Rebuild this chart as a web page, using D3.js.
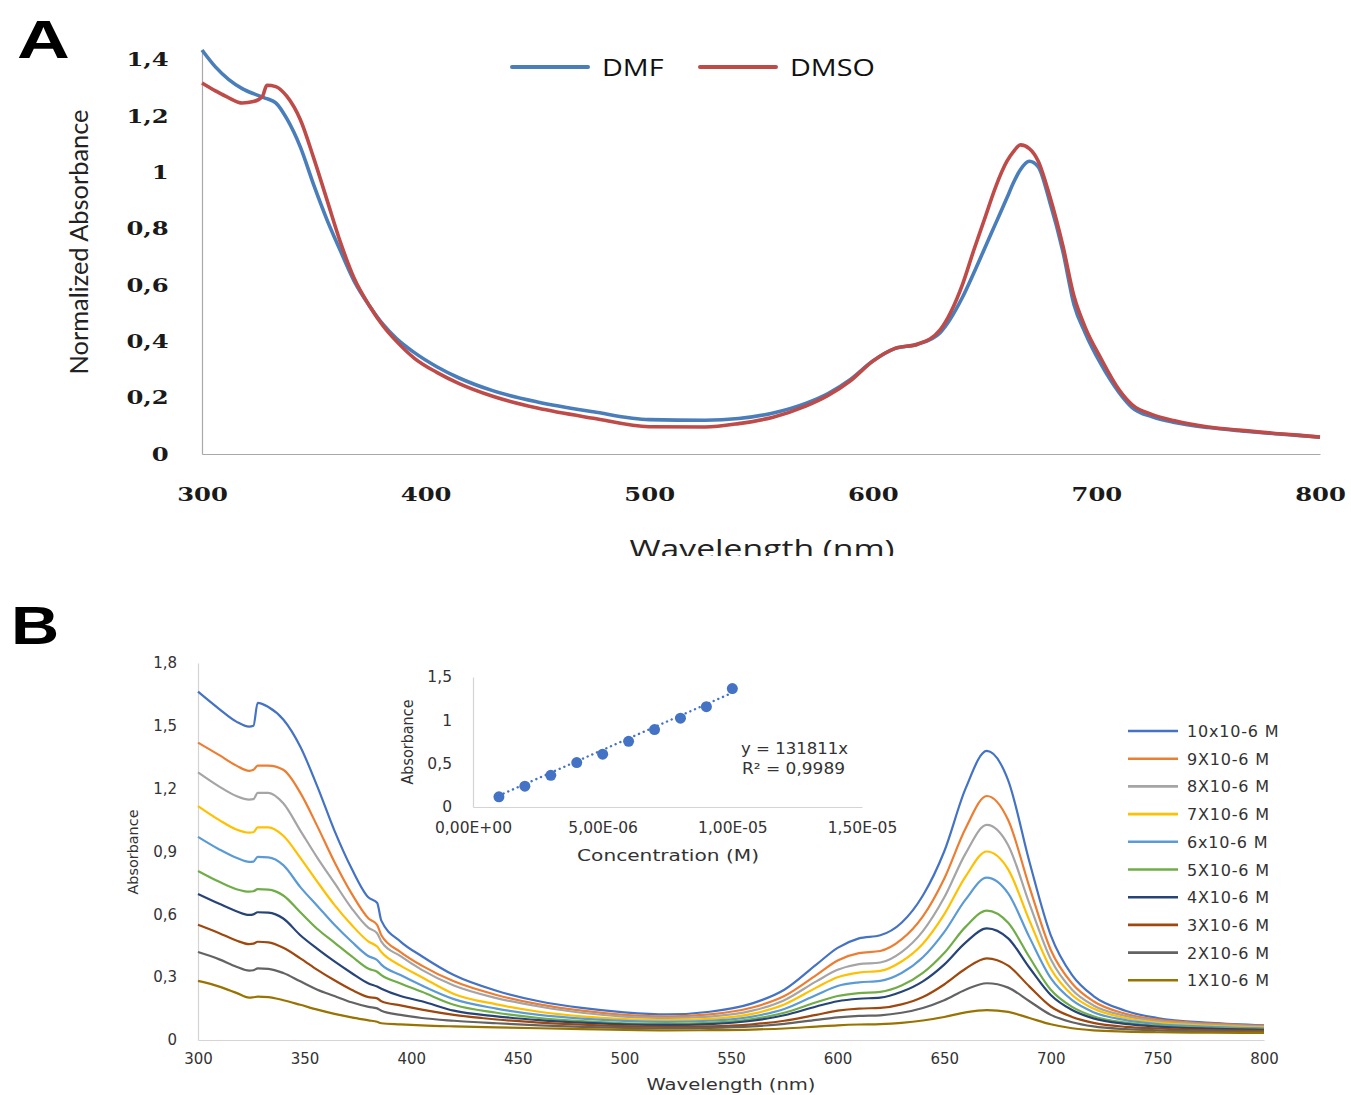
<!DOCTYPE html>
<html>
<head>
<meta charset="utf-8">
<script src="https://cdn.jsdelivr.net/npm/d3@7/dist/d3.min.js"></script>
<style>
  body { margin: 0; background: #fff; }
</style>
</head>
<body>
<div id="chart"></div>
<script>
// ---- panel A : normalized spectra in two solvents
var wavelengthA = [300, 306, 312, 318, 323, 327, 329, 333, 338, 344, 350, 356, 362, 368, 375, 381, 387, 395, 405, 415, 430, 450, 475, 500, 525, 540, 555, 570, 580, 590, 600, 610, 620, 630, 640, 645, 650, 655, 660, 663, 666, 670, 674, 679, 685, 690, 695, 702, 710, 716, 725, 735, 750, 765, 780, 790, 800];
var dmf = [1.435, 1.375, 1.33, 1.298, 1.28, 1.268, 1.262, 1.247, 1.19, 1.09, 0.955, 0.83, 0.72, 0.615, 0.525, 0.46, 0.41, 0.36, 0.31, 0.27, 0.225, 0.185, 0.15, 0.122, 0.12, 0.126, 0.145, 0.18, 0.215, 0.265, 0.33, 0.375, 0.39, 0.43, 0.555, 0.64, 0.73, 0.82, 0.91, 0.965, 1.01, 1.04, 1.02, 0.9, 0.72, 0.53, 0.43, 0.32, 0.22, 0.165, 0.132, 0.112, 0.094, 0.082, 0.072, 0.066, 0.06];
var dmso = [1.318, 1.29, 1.265, 1.247, 1.252, 1.27, 1.31, 1.305, 1.27, 1.187, 1.05, 0.9, 0.75, 0.625, 0.525, 0.455, 0.4, 0.34, 0.29, 0.25, 0.205, 0.163, 0.127, 0.097, 0.096, 0.108, 0.13, 0.17, 0.208, 0.26, 0.33, 0.375, 0.39, 0.44, 0.6, 0.72, 0.835, 0.95, 1.04, 1.075, 1.098, 1.085, 1.04, 0.92, 0.74, 0.56, 0.45, 0.34, 0.23, 0.175, 0.14, 0.118, 0.096, 0.084, 0.073, 0.067, 0.06];
var solventNames = ["DMF", "DMSO"];
var solventColors = ["#4a7ebb", "#be4b48"];
var xTicksA = [300, 400, 500, 600, 700, 800];
var yTicksA = [0, 0.2, 0.4, 0.6, 0.8, 1, 1.2, 1.4];

// ---- panel B : concentration series
var wavelengthB = [300, 310, 318, 324, 326, 328, 333, 340, 348, 356, 364, 372, 380, 384, 386, 395, 405, 420, 440, 460, 480, 500, 520, 540, 560, 575, 590, 600, 610, 620, 630, 640, 650, 660, 670, 680, 690, 700, 710, 720, 735, 750, 775, 800];
var c10 = [1.663, 1.58, 1.52, 1.496, 1.5, 1.61, 1.59, 1.53, 1.4, 1.21, 1.0, 0.82, 0.68, 0.655, 0.57, 0.47, 0.4, 0.31, 0.235, 0.185, 0.153, 0.132, 0.122, 0.135, 0.175, 0.24, 0.36, 0.44, 0.485, 0.5, 0.56, 0.69, 0.9, 1.2, 1.38, 1.24, 0.85, 0.5, 0.31, 0.21, 0.14, 0.105, 0.082, 0.07];
var c9 = [1.42, 1.36, 1.31, 1.285, 1.29, 1.31, 1.31, 1.29, 1.18, 1.02, 0.85, 0.7, 0.58, 0.55, 0.5, 0.42, 0.355, 0.28, 0.215, 0.17, 0.14, 0.12, 0.112, 0.122, 0.155, 0.21, 0.31, 0.38, 0.415, 0.425, 0.48, 0.59, 0.77, 1.01, 1.165, 1.05, 0.73, 0.43, 0.27, 0.185, 0.125, 0.097, 0.078, 0.067];
var c8 = [1.278, 1.21, 1.165, 1.148, 1.15, 1.18, 1.18, 1.13, 1.0, 0.87, 0.75, 0.63, 0.535, 0.51, 0.47, 0.4, 0.335, 0.26, 0.2, 0.16, 0.13, 0.112, 0.105, 0.112, 0.14, 0.19, 0.28, 0.335, 0.362, 0.37, 0.42, 0.52, 0.68, 0.89, 1.027, 0.93, 0.65, 0.385, 0.24, 0.165, 0.115, 0.09, 0.073, 0.063];
var c7 = [1.117, 1.05, 1.005, 0.99, 0.992, 1.015, 1.015, 0.975, 0.87, 0.755, 0.645, 0.55, 0.47, 0.446, 0.42, 0.355, 0.3, 0.22, 0.17, 0.135, 0.113, 0.1, 0.095, 0.101, 0.125, 0.17, 0.25, 0.3, 0.322, 0.33, 0.375, 0.46, 0.6, 0.78, 0.9, 0.815, 0.57, 0.34, 0.215, 0.15, 0.105, 0.083, 0.068, 0.06];
var c6 = [0.97, 0.91, 0.87, 0.85, 0.852, 0.874, 0.872, 0.835, 0.73, 0.64, 0.55, 0.47, 0.4, 0.382, 0.36, 0.31, 0.26, 0.195, 0.15, 0.12, 0.102, 0.091, 0.087, 0.092, 0.112, 0.148, 0.215, 0.258, 0.275, 0.282, 0.32, 0.395, 0.515, 0.67, 0.775, 0.7, 0.49, 0.295, 0.19, 0.133, 0.095, 0.076, 0.063, 0.056];
var c5 = [0.807, 0.755, 0.72, 0.708, 0.71, 0.72, 0.718, 0.69, 0.61, 0.53, 0.465, 0.4, 0.34, 0.326, 0.31, 0.27, 0.23, 0.168, 0.13, 0.105, 0.09, 0.08, 0.077, 0.082, 0.1, 0.13, 0.18, 0.21, 0.224, 0.23, 0.26, 0.32, 0.415, 0.54, 0.618, 0.56, 0.395, 0.24, 0.158, 0.113, 0.083, 0.068, 0.057, 0.052];
var c4 = [0.697, 0.65, 0.615, 0.597, 0.6, 0.61, 0.608, 0.58, 0.5, 0.435, 0.375, 0.32, 0.27, 0.255, 0.245, 0.21, 0.185, 0.14, 0.113, 0.095, 0.083, 0.075, 0.072, 0.076, 0.092, 0.118, 0.16, 0.185, 0.197, 0.202, 0.23, 0.28, 0.36, 0.465, 0.533, 0.485, 0.345, 0.215, 0.143, 0.103, 0.077, 0.064, 0.054, 0.049];
var c3 = [0.55, 0.51, 0.475, 0.458, 0.46, 0.469, 0.466, 0.44, 0.39, 0.335, 0.285, 0.24, 0.205, 0.199, 0.185, 0.165, 0.145, 0.12, 0.098, 0.083, 0.073, 0.066, 0.063, 0.065, 0.075, 0.092, 0.12, 0.14, 0.15, 0.153, 0.17, 0.205, 0.265, 0.34, 0.39, 0.355, 0.255, 0.16, 0.11, 0.082, 0.063, 0.055, 0.047, 0.044];
var c2 = [0.42, 0.385, 0.35, 0.331, 0.333, 0.342, 0.34, 0.32, 0.28, 0.24, 0.21, 0.18, 0.158, 0.151, 0.14, 0.12, 0.105, 0.092, 0.08, 0.07, 0.063, 0.058, 0.056, 0.058, 0.065, 0.077, 0.096, 0.108, 0.115, 0.118, 0.13, 0.153, 0.19, 0.24, 0.271, 0.25, 0.185, 0.12, 0.085, 0.065, 0.052, 0.046, 0.041, 0.039];
var c1 = [0.282, 0.255, 0.225, 0.202, 0.204, 0.207, 0.205, 0.19, 0.168, 0.145, 0.125, 0.108, 0.094, 0.087, 0.08, 0.075, 0.07, 0.065, 0.06, 0.056, 0.052, 0.048, 0.046, 0.047, 0.05, 0.055, 0.064, 0.07, 0.074, 0.076, 0.082, 0.093, 0.11, 0.132, 0.143, 0.134, 0.105, 0.075, 0.056, 0.046, 0.04, 0.037, 0.035, 0.034];
var concSeries = [c10, c9, c8, c7, c6, c5, c4, c3, c2, c1];
var concLabels = ["10x10-6 M", "9X10-6 M", "8X10-6 M", "7X10-6 M", "6x10-6 M", "5X10-6 M", "4X10-6 M", "3X10-6 M", "2X10-6 M", "1X10-6 M"];
var concColors = ["#4472c4", "#ed7d31", "#a5a5a5", "#ffc000", "#5b9bd5", "#70ad47", "#264478", "#9e480e", "#636363", "#997300"];
var xTicksB = [300, 350, 400, 450, 500, 550, 600, 650, 700, 750, 800];
var yTicksB = [0, 0.3, 0.6, 0.9, 1.2, 1.5, 1.8];

// ---- inset : calibration line
var insetConc = [1e-6, 2e-6, 3e-6, 4e-6, 5e-6, 6e-6, 7e-6, 8e-6, 9e-6, 1e-5];
var insetAbs = [0.117, 0.24, 0.365, 0.513, 0.61, 0.758, 0.893, 1.025, 1.158, 1.367];
var insetSlope = 131811;
var insetXTicks = [0, 5e-6, 1e-5, 1.5e-5];
var insetXLabels = ["0,00E+00", "5,00E-06", "1,00E-05", "1,50E-05"];
var insetYTicks = [0, 0.5, 1, 1.5];

function commaFmt(d) { return String(+d.toFixed(1)).replace(".", ","); }

var svg = d3.select("#chart").append("svg")
  .attr("width", 1351)
  .attr("height", 1095)
  .style("font-family", "'DejaVu Sans', sans-serif");

// ================= panel A =================
var xA = d3.scaleLinear().domain([300, 800]).range([202, 1320]);
var yA = d3.scaleLinear().domain([0, 1.435]).range([454, 50]);

svg.append("text")
  .attr("transform", "translate(17,58) scale(1.38,1)")
  .style("font-family", "'Liberation Sans', Arial, sans-serif")
  .style("font-weight", "bold")
  .style("font-size", "53px")
  .text("A");

var axA = svg.append("g").attr("transform", "translate(202,0)")
  .call(d3.axisLeft(yA).tickValues(yTicksA).tickSize(0).tickPadding(26).tickFormat(commaFmt));
var axAx = svg.append("g").attr("transform", "translate(0,454)")
  .call(d3.axisBottom(xA).tickValues(xTicksA).tickSize(0).tickPadding(34).tickFormat(d3.format("d")));
[axA, axAx].forEach(function(g) {
  g.select(".domain").attr("stroke", "#a9a9a9").attr("stroke-width", 1.2);
  g.selectAll("text")
    .attr("transform", "scale(1.28,1)")
    .style("font-family", "'DejaVu Serif', serif")
    .style("font-weight", "bold")
    .style("font-size", "19px")
    .attr("fill", "#1a1a1a");
});

var lineA = function(vals) {
  return d3.line()
    .x(function(d, i) { return xA(wavelengthA[i]); })
    .y(function(d) { return yA(d); })
    .curve(d3.curveMonotoneX)(vals);
};
[dmf, dmso].forEach(function(vals, k) {
  svg.append("path")
    .attr("d", lineA(vals))
    .attr("fill", "none")
    .attr("stroke", solventColors[k])
    .attr("stroke-width", 3.6)
    .attr("stroke-linejoin", "round");
});

// legend A
var legA = [{x: 512, tx: 602}, {x: 700, tx: 790}];
legA.forEach(function(p, k) {
  svg.append("line")
    .attr("x1", p.x).attr("x2", p.x + 76)
    .attr("y1", 67).attr("y2", 67)
    .attr("stroke", solventColors[k])
    .attr("stroke-width", 4)
    .attr("stroke-linecap", "round");
  svg.append("text")
    .attr("transform", "translate(" + p.tx + ",75.5) scale(1.25,1)")
    .style("font-family", "'Open Sans', sans-serif")
    .style("font-size", "23px")
    .attr("fill", "#111")
    .text(solventNames[k]);
});

svg.append("text")
  .attr("transform", "translate(88,242) rotate(-90)")
  .attr("text-anchor", "middle")
  .style("font-family", "Lato, sans-serif")
  .style("font-size", "25px")
  .attr("textLength", 265)
  .attr("lengthAdjust", "spacingAndGlyphs")
  .attr("fill", "#222")
  .text("Normalized Absorbance");

svg.append("clipPath").attr("id", "cutA")
  .append("rect").attr("x", 0).attr("y", 0).attr("width", 1351).attr("height", 556);
svg.append("text")
  .attr("clip-path", "url(#cutA)")
  .attr("x", 762).attr("y", 558)
  .attr("text-anchor", "middle")
  .style("font-family", "'Open Sans', sans-serif")
  .style("font-size", "26px")
  .attr("textLength", 265)
  .attr("lengthAdjust", "spacingAndGlyphs")
  .attr("fill", "#222")
  .text("Wavelength (nm)");

// ================= panel B =================
var xB = d3.scaleLinear().domain([300, 800]).range([198, 1264]);
var yB = d3.scaleLinear().domain([0, 1.8]).range([1040, 663]);

svg.append("text")
  .attr("transform", "translate(11,644) scale(1.26,1)")
  .style("font-family", "'Liberation Sans', Arial, sans-serif")
  .style("font-weight", "bold")
  .style("font-size", "53px")
  .text("B");

var axB = svg.append("g").attr("transform", "translate(198,0)")
  .call(d3.axisLeft(yB).tickValues(yTicksB).tickSize(0).tickPadding(21).tickFormat(commaFmt));
var axBx = svg.append("g").attr("transform", "translate(0,1040)")
  .call(d3.axisBottom(xB).tickValues(xTicksB).tickSize(0).tickPadding(13).tickFormat(d3.format("d")));
[axB, axBx].forEach(function(g) {
  g.select(".domain").attr("stroke", "#d4d4d4").attr("stroke-width", 1.2);
  g.selectAll("text")
    .style("font-family", "'DejaVu Sans', sans-serif")
    .style("font-size", "15px")
    .attr("fill", "#333");
});

var lineB = d3.line()
  .x(function(d, i) { return xB(wavelengthB[i]); })
  .y(function(d) { return yB(d); })
  .curve(d3.curveMonotoneX);
concSeries.forEach(function(vals, k) {
  svg.append("path")
    .attr("d", lineB(vals))
    .attr("fill", "none")
    .attr("stroke", concColors[k])
    .attr("stroke-width", 2.2)
    .attr("stroke-linejoin", "round");
});

svg.append("text")
  .attr("transform", "translate(138,852) rotate(-90)")
  .attr("text-anchor", "middle")
  .style("font-size", "14.5px")
  .attr("textLength", 85)
  .attr("lengthAdjust", "spacingAndGlyphs")
  .attr("fill", "#333")
  .text("Absorbance");

svg.append("text")
  .attr("x", 731).attr("y", 1090)
  .attr("text-anchor", "middle")
  .style("font-size", "16px")
  .attr("textLength", 169)
  .attr("lengthAdjust", "spacingAndGlyphs")
  .attr("fill", "#333")
  .text("Wavelength (nm)");

// legend B
var legB = svg.append("g").selectAll("g")
  .data(concLabels).enter().append("g")
  .attr("transform", function(d, i) { return "translate(0," + (731 + i * 27.7) + ")"; });
legB.append("line")
  .attr("x1", 1128).attr("x2", 1178)
  .attr("stroke", function(d, i) { return concColors[i]; })
  .attr("stroke-width", 2.6);
legB.append("text")
  .attr("x", 1187).attr("y", 6)
  .style("font-size", "16px")
  .style("letter-spacing", "0.8px")
  .attr("fill", "#333")
  .text(function(d) { return d; });

// ================= inset =================
var xI = d3.scaleLinear().domain([0, 1.5e-5]).range([473, 862]);
var yI = d3.scaleLinear().domain([0, 1.5]).range([807, 677]);

var axI = svg.append("g").attr("transform", "translate(473,0)")
  .call(d3.axisLeft(yI).tickValues(insetYTicks).tickSize(0).tickPadding(21).tickFormat(commaFmt));
var axIx = svg.append("g").attr("transform", "translate(0,807)")
  .call(d3.axisBottom(xI).tickValues(insetXTicks).tickSize(0).tickPadding(15)
    .tickFormat(function(d, i) { return insetXLabels[i]; }));
[axI, axIx].forEach(function(g) {
  g.select(".domain").attr("stroke", "#d4d4d4").attr("stroke-width", 1.2);
  g.selectAll("text")
    .style("font-family", "'DejaVu Sans', sans-serif")
    .style("font-size", "15.5px")
    .attr("fill", "#333");
});

svg.append("line")
  .attr("x1", xI(insetConc[0])).attr("y1", yI(insetSlope * insetConc[0]))
  .attr("x2", xI(insetConc[insetConc.length - 1])).attr("y2", yI(insetSlope * insetConc[insetConc.length - 1]))
  .attr("stroke", "#4472c4")
  .attr("stroke-width", 2.4)
  .attr("stroke-dasharray", "0.1,5")
  .attr("stroke-linecap", "round");

svg.append("g").selectAll("circle")
  .data(insetAbs).enter().append("circle")
  .attr("cx", function(d, i) { return xI(insetConc[i]); })
  .attr("cy", function(d) { return yI(d); })
  .attr("r", 5.5)
  .attr("fill", "#4472c4");

svg.append("text")
  .attr("x", 848).attr("y", 754)
  .attr("text-anchor", "end")
  .style("font-size", "15px")
  .attr("textLength", 107)
  .attr("lengthAdjust", "spacingAndGlyphs")
  .attr("fill", "#333")
  .text("y = 131811x");
svg.append("text")
  .attr("x", 845).attr("y", 774)
  .attr("text-anchor", "end")
  .style("font-size", "15px")
  .attr("textLength", 103)
  .attr("lengthAdjust", "spacingAndGlyphs")
  .attr("fill", "#333")
  .text("R² = 0,9989");

svg.append("text")
  .attr("transform", "translate(413,742) rotate(-90)")
  .attr("text-anchor", "middle")
  .style("font-size", "15px")
  .attr("textLength", 85)
  .attr("lengthAdjust", "spacingAndGlyphs")
  .attr("fill", "#333")
  .text("Absorbance");
svg.append("text")
  .attr("x", 668).attr("y", 861)
  .attr("text-anchor", "middle")
  .style("font-size", "16px")
  .attr("textLength", 182)
  .attr("lengthAdjust", "spacingAndGlyphs")
  .attr("fill", "#333")
  .text("Concentration (M)");
</script>
</body>
</html>
